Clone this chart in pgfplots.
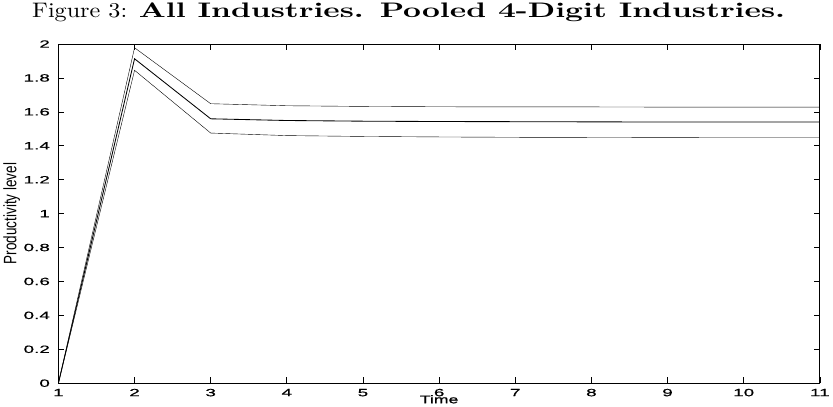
\documentclass[border=0pt]{standalone}
\usepackage{fontspec}
\usepackage{graphicx}
\usepackage{pgfplots}
\pgfplotsset{compat=1.18}
\newfontfamily\tickfont[FakeStretch=1.8,FakeBold=0.6]{Liberation Sans}
\newfontfamily\labfont[FakeStretch=0.75]{Liberation Sans}
\newfontfamily\timefont[FakeStretch=1.6,FakeBold=1]{Liberation Sans}
\newfontfamily\titlefont{lmroman10-regular.otf}[BoldFont=lmroman10-bold.otf]
\begin{document}
\begin{tikzpicture}
\begin{axis}[
  scale only axis,
  width=761pt, height=339pt,
  xmin=1, xmax=11, ymin=0, ymax=2,
  xtick={1,2,...,11},
  ytick={0,0.2,0.4,0.6,0.8,1,1.2,1.4,1.6,1.8,2},
  yticklabels={0,0.2,0.4,0.6,0.8,1,1.2,1.4,1.6,1.8,2},
  tick align=inside,
  major tick length=6pt,
  axis line style={line width=0.9pt},
  tick style={line width=0.7pt,black},
  /pgf/number format/assume math mode=true,
  tick label style={font=\tickfont\fontsize{10.5}{12}\selectfont},
  xticklabel style={anchor=base, yshift=-13pt},
  yticklabel style={anchor=east, xshift=-5pt},
  xlabel={\timefont\fontsize{11}{12}\selectfont Time},
  xlabel style={at={(axis description cs:0.5,0)}, anchor=base, yshift=-20pt},
  ylabel={\labfont\fontsize{18}{19}\selectfont Productivity level},
  ylabel style={at={([xshift=-42pt]axis description cs:0,0.5)}, anchor=base},
  title={\titlefont\fontsize{21}{24}\selectfont\scalebox{1.15}[1]{Figure 3:}\hspace{0.55em}\scalebox{1.48}[1]{\bfseries All Industries. Pooled 4-Digit Industries.}},
  title style={at={(axis description cs:0.46,1)}, anchor=base, yshift=20pt},
  cycle list={{black, line width=0.85pt, mark=none}},
]
\addplot coordinates {(1,0) (2,1.978) (3,1.648) (4,1.636) (5,1.632) (6,1.630) (7,1.629) (8,1.629) (9,1.628) (10,1.628) (11,1.628)};
\addplot coordinates {(1,0) (2,1.913) (3,1.559) (4,1.549) (5,1.545) (6,1.543) (7,1.542) (8,1.541) (9,1.540) (10,1.540) (11,1.540)};
\addplot coordinates {(1,0) (2,1.845) (3,1.475) (4,1.460) (5,1.455) (6,1.452) (7,1.450) (8,1.449) (9,1.448) (10,1.447) (11,1.447)};
\end{axis}
\end{tikzpicture}
\end{document}
